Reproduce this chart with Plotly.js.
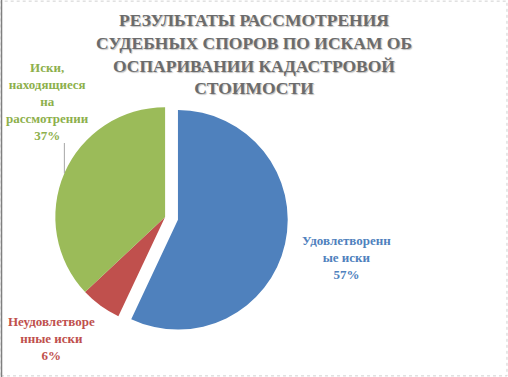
<!DOCTYPE html>
<html>
<head>
<meta charset="utf-8">
<script src="https://cdn.plot.ly/plotly-3.0.1.min.js"></script>
<style>
  html, body { margin: 0; padding: 0; background: #fff; }
  #chart { width: 508px; height: 377px; }
  #chart svg text, #chart svg tspan { font-family: 'Liberation Serif', 'Times New Roman', serif !important; }
</style>
</head>
<body>
<div id="chart"></div>
<script>
// Data
const categories = ["Удовлетворенные иски", "Неудовлетворенные иски", "Иски, находящиеся на рассмотрении"];
const values = [57, 6, 37];
const labelTexts = ["Удовлетворенн<br>ые иски", "Неудовлетворе<br>нные иски", "Иски,<br>находящиеся<br>на<br>рассмотрении"];
const colors = ["#4F81BD", "#C0504D", "#9BBB59"];
const textColors = ["#4F81BD", "#C0504D", "#8DB04C"];
const pulls = [0.12, 0, 0];
const titleText = "РЕЗУЛЬТАТЫ РАССМОТРЕНИЯ<br>СУДЕБНЫХ СПОРОВ ПО ИСКАМ ОБ<br>ОСПАРИВАНИИ КАДАСТРОВОЙ<br>СТОИМОСТИ";

const W = 508, H = 377;
const domX = [0.083, 0.567];
const domY = [0.098, 0.751];
const FONT = "Liberation Serif";

// geometry of the pie (same as Plotly's scaling)
const rx = W * (domX[1] - domX[0]) / 2, ry = H * (domY[1] - domY[0]) / 2;
const maxPull = Math.max(...pulls);
const R = Math.min(rx, ry) / (1 + maxPull);
const cx = W * (domX[0] + domX[1]) / 2;
const cy = H * (1 - (domY[0] + domY[1]) / 2);
const total = values.reduce((a, b) => a + b, 0);
const pct = values.map(v => Math.round(v / total * 100) + "%");

// leader point for green slice (mid-angle on the rim)
let cum = 0;
const mids = values.map(v => { const m = cum + v / 2; cum += v; return m / total; });
const th = 2 * Math.PI * mids[2];
const lx = cx + R * Math.sin(th), ly = cy - R * Math.cos(th);

const labelPos = [[346, 257], [51, 338], [47, 101]];

const annotations = categories.map((c, i) => ({
  text: "<b>" + labelTexts[i] + "<br>" + pct[i] + "</b>",
  x: labelPos[i][0] / W, y: 1 - labelPos[i][1] / H,
  xref: "paper", yref: "paper", xanchor: "center", yanchor: "middle",
  showarrow: false, align: "center",
  font: { family: FONT, size: 13, color: textColors[i] }
}));

const data = [{
  type: "pie",
  labels: categories,
  values: values,
  sort: false,
  direction: "clockwise",
  rotation: 0,
  pull: pulls,
  marker: { colors: colors, line: { color: "#ffffff", width: 0 } },
  textinfo: "none",
  hoverinfo: "label+percent",
  domain: { x: domX, y: domY },
  showlegend: false
}];

const layout = {
  width: W, height: H,
  margin: { l: 0, r: 0, t: 0, b: 0 },
  paper_bgcolor: "#ffffff",
  font: { family: FONT },
  showlegend: false,
  title: {
    text: "<b>" + titleText + "</b>",
    x: 0.5, xanchor: "center",
    y: 1 - 26 / H, yanchor: "top", yref: "container",
    font: { family: FONT, size: 17.5, color: "#6b6b6b", shadow: "1px 1px 1px rgba(0,0,0,0.25)" }
  },
  annotations: annotations,
  shapes: [
    { type: "line", xref: "paper", yref: "paper", x0: lx / W, x1: lx / W, y0: 1 - ly / H, y1: 1 - 143 / H,
      line: { color: "#a6a6a6", width: 1 } },
    { type: "rect", xref: "paper", yref: "paper", x0: 0.002, x1: 0.998, y0: 0.003, y1: 0.997,
      line: { color: "#d0d0d0", width: 1, dash: "dot" } },
    { type: "line", xref: "paper", yref: "paper", x0: 0.003, x1: 0.003, y0: 0, y1: 1,
      line: { color: "#7f7f7f", width: 1.5 } }
  ]
};

Plotly.newPlot("chart", data, layout, { displayModeBar: false });
</script>
</body>
</html>
